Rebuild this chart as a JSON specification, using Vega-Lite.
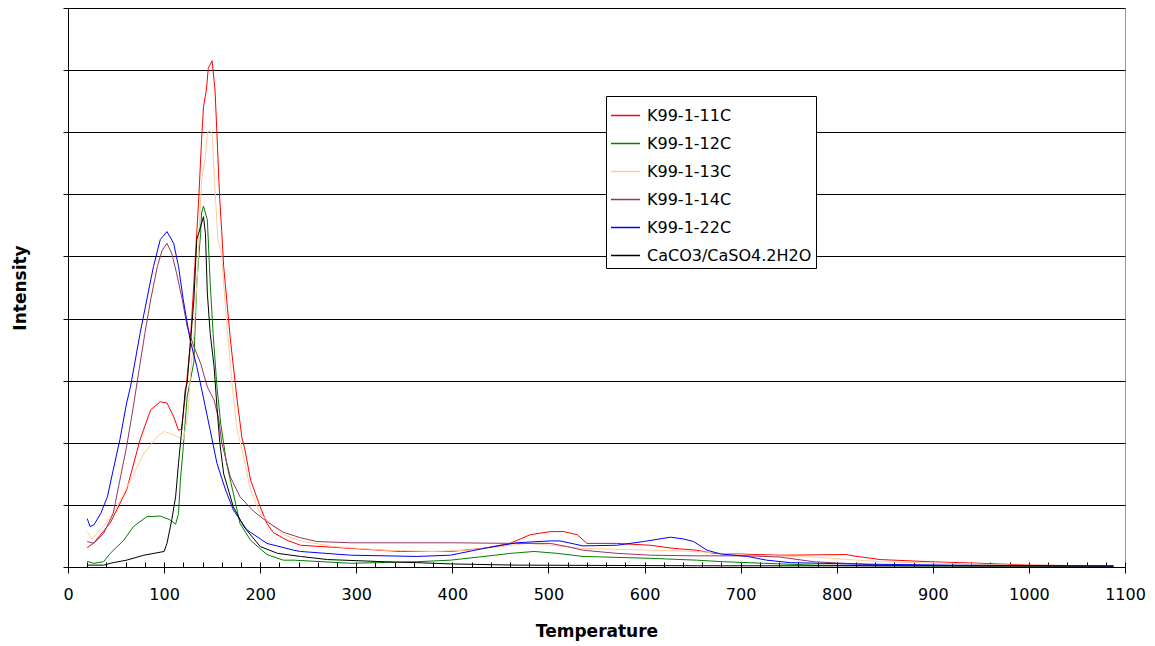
{
 "$schema": "https://vega.github.io/schema/vega-lite/v6.json",
 "width": 1057, "height": 559,
 "autosize": {"type": "none"},
 "padding": {"left": 68, "top": 8, "right": 30, "bottom": 79},
 "background": "white",
 "config": {"view": {"stroke": "#999999", "strokeWidth": 1}, "font": "DejaVu Sans"},
 "layer": [
  {
   "data": {"values": [
    {"Series":"K99-1-11C","Temperature":20,"Intensity":0.31},{"Series":"K99-1-11C","Temperature":27,"Intensity":0.39},{"Series":"K99-1-11C","Temperature":44,"Intensity":0.71},{"Series":"K99-1-11C","Temperature":61,"Intensity":1.24},{"Series":"K99-1-11C","Temperature":75,"Intensity":2.05},{"Series":"K99-1-11C","Temperature":86,"Intensity":2.53},{"Series":"K99-1-11C","Temperature":96,"Intensity":2.66},{"Series":"K99-1-11C","Temperature":103,"Intensity":2.64},{"Series":"K99-1-11C","Temperature":110,"Intensity":2.42},{"Series":"K99-1-11C","Temperature":115,"Intensity":2.2},{"Series":"K99-1-11C","Temperature":118,"Intensity":2.22},{"Series":"K99-1-11C","Temperature":122,"Intensity":2.74},{"Series":"K99-1-11C","Temperature":127,"Intensity":3.55},{"Series":"K99-1-11C","Temperature":132,"Intensity":4.84},{"Series":"K99-1-11C","Temperature":136,"Intensity":5.91},{"Series":"K99-1-11C","Temperature":139,"Intensity":6.88},{"Series":"K99-1-11C","Temperature":141,"Intensity":7.41},{"Series":"K99-1-11C","Temperature":144,"Intensity":7.68},{"Series":"K99-1-11C","Temperature":146,"Intensity":8.03},{"Series":"K99-1-11C","Temperature":150,"Intensity":8.15},{"Series":"K99-1-11C","Temperature":153,"Intensity":7.68},{"Series":"K99-1-11C","Temperature":155,"Intensity":6.98},{"Series":"K99-1-11C","Temperature":157,"Intensity":6.23},{"Series":"K99-1-11C","Temperature":158,"Intensity":5.91},{"Series":"K99-1-11C","Temperature":160,"Intensity":5.4},{"Series":"K99-1-11C","Temperature":162,"Intensity":4.84},{"Series":"K99-1-11C","Temperature":169,"Intensity":3.66},{"Series":"K99-1-11C","Temperature":176,"Intensity":2.69},{"Series":"K99-1-11C","Temperature":181,"Intensity":2.08},{"Series":"K99-1-11C","Temperature":184,"Intensity":1.9},{"Series":"K99-1-11C","Temperature":190,"Intensity":1.4},{"Series":"K99-1-11C","Temperature":200,"Intensity":0.97},{"Series":"K99-1-11C","Temperature":207,"Intensity":0.7},{"Series":"K99-1-11C","Temperature":214,"Intensity":0.55},{"Series":"K99-1-11C","Temperature":228,"Intensity":0.43},{"Series":"K99-1-11C","Temperature":242,"Intensity":0.35},{"Series":"K99-1-11C","Temperature":294,"Intensity":0.3},{"Series":"K99-1-11C","Temperature":346,"Intensity":0.25},{"Series":"K99-1-11C","Temperature":398,"Intensity":0.25},{"Series":"K99-1-11C","Temperature":432,"Intensity":0.3},{"Series":"K99-1-11C","Temperature":460,"Intensity":0.38},{"Series":"K99-1-11C","Temperature":481,"Intensity":0.52},{"Series":"K99-1-11C","Temperature":502,"Intensity":0.57},{"Series":"K99-1-11C","Temperature":516,"Intensity":0.57},{"Series":"K99-1-11C","Temperature":530,"Intensity":0.52},{"Series":"K99-1-11C","Temperature":540,"Intensity":0.38},{"Series":"K99-1-11C","Temperature":571,"Intensity":0.38},{"Series":"K99-1-11C","Temperature":606,"Intensity":0.35},{"Series":"K99-1-11C","Temperature":630,"Intensity":0.3},{"Series":"K99-1-11C","Temperature":654,"Intensity":0.27},{"Series":"K99-1-11C","Temperature":672,"Intensity":0.22},{"Series":"K99-1-11C","Temperature":741,"Intensity":0.19},{"Series":"K99-1-11C","Temperature":810,"Intensity":0.2},{"Series":"K99-1-11C","Temperature":817,"Intensity":0.18},{"Series":"K99-1-11C","Temperature":845,"Intensity":0.12},{"Series":"K99-1-11C","Temperature":897,"Intensity":0.085},{"Series":"K99-1-11C","Temperature":949,"Intensity":0.06},{"Series":"K99-1-11C","Temperature":1001,"Intensity":0.03},{"Series":"K99-1-11C","Temperature":1088,"Intensity":0.016},

    {"Series":"K99-1-12C","Temperature":20,"Intensity":0.09},{"Series":"K99-1-12C","Temperature":27,"Intensity":0.06},{"Series":"K99-1-12C","Temperature":37,"Intensity":0.085},{"Series":"K99-1-12C","Temperature":44,"Intensity":0.22},{"Series":"K99-1-12C","Temperature":58,"Intensity":0.43},{"Series":"K99-1-12C","Temperature":68,"Intensity":0.65},{"Series":"K99-1-12C","Temperature":82,"Intensity":0.81},{"Series":"K99-1-12C","Temperature":96,"Intensity":0.82},{"Series":"K99-1-12C","Temperature":106,"Intensity":0.76},{"Series":"K99-1-12C","Temperature":112,"Intensity":0.69},{"Series":"K99-1-12C","Temperature":115,"Intensity":0.86},{"Series":"K99-1-12C","Temperature":117,"Intensity":1.4},{"Series":"K99-1-12C","Temperature":120,"Intensity":1.94},{"Series":"K99-1-12C","Temperature":124,"Intensity":2.74},{"Series":"K99-1-12C","Temperature":131,"Intensity":3.3},{"Series":"K99-1-12C","Temperature":134,"Intensity":4.57},{"Series":"K99-1-12C","Temperature":138,"Intensity":5.37},{"Series":"K99-1-12C","Temperature":139,"Intensity":5.7},{"Series":"K99-1-12C","Temperature":141,"Intensity":5.81},{"Series":"K99-1-12C","Temperature":145,"Intensity":5.59},{"Series":"K99-1-12C","Temperature":148,"Intensity":4.57},{"Series":"K99-1-12C","Temperature":151,"Intensity":3.76},{"Series":"K99-1-12C","Temperature":155,"Intensity":2.9},{"Series":"K99-1-12C","Temperature":159,"Intensity":2.3},{"Series":"K99-1-12C","Temperature":165,"Intensity":1.67},{"Series":"K99-1-12C","Temperature":172,"Intensity":1.19},{"Series":"K99-1-12C","Temperature":179,"Intensity":0.7},{"Series":"K99-1-12C","Temperature":190,"Intensity":0.43},{"Series":"K99-1-12C","Temperature":207,"Intensity":0.2},{"Series":"K99-1-12C","Temperature":224,"Intensity":0.11},{"Series":"K99-1-12C","Temperature":235,"Intensity":0.11},{"Series":"K99-1-12C","Temperature":294,"Intensity":0.06},{"Series":"K99-1-12C","Temperature":363,"Intensity":0.085},{"Series":"K99-1-12C","Temperature":398,"Intensity":0.11},{"Series":"K99-1-12C","Temperature":433,"Intensity":0.17},{"Series":"K99-1-12C","Temperature":461,"Intensity":0.22},{"Series":"K99-1-12C","Temperature":485,"Intensity":0.25},{"Series":"K99-1-12C","Temperature":509,"Intensity":0.22},{"Series":"K99-1-12C","Temperature":536,"Intensity":0.17},{"Series":"K99-1-12C","Temperature":606,"Intensity":0.14},{"Series":"K99-1-12C","Temperature":654,"Intensity":0.11},{"Series":"K99-1-12C","Temperature":682,"Intensity":0.085},{"Series":"K99-1-12C","Temperature":724,"Intensity":0.06},{"Series":"K99-1-12C","Temperature":776,"Intensity":0.03},{"Series":"K99-1-12C","Temperature":850,"Intensity":0.02},{"Series":"K99-1-12C","Temperature":950,"Intensity":0.015},{"Series":"K99-1-12C","Temperature":1088,"Intensity":0.01},

    {"Series":"K99-1-13C","Temperature":20,"Intensity":0.57},{"Series":"K99-1-13C","Temperature":25,"Intensity":0.45},{"Series":"K99-1-13C","Temperature":37,"Intensity":0.65},{"Series":"K99-1-13C","Temperature":51,"Intensity":0.97},{"Series":"K99-1-13C","Temperature":65,"Intensity":1.4},{"Series":"K99-1-13C","Temperature":79,"Intensity":1.83},{"Series":"K99-1-13C","Temperature":93,"Intensity":2.1},{"Series":"K99-1-13C","Temperature":100,"Intensity":2.18},{"Series":"K99-1-13C","Temperature":110,"Intensity":2.13},{"Series":"K99-1-13C","Temperature":120,"Intensity":2.05},{"Series":"K99-1-13C","Temperature":125,"Intensity":2.47},{"Series":"K99-1-13C","Temperature":127,"Intensity":3.01},{"Series":"K99-1-13C","Temperature":131,"Intensity":3.76},{"Series":"K99-1-13C","Temperature":135,"Intensity":4.8},{"Series":"K99-1-13C","Temperature":137,"Intensity":5.6},{"Series":"K99-1-13C","Temperature":139,"Intensity":6.23},{"Series":"K99-1-13C","Temperature":143,"Intensity":6.61},{"Series":"K99-1-13C","Temperature":145,"Intensity":6.98},{"Series":"K99-1-13C","Temperature":147,"Intensity":7.03},{"Series":"K99-1-13C","Temperature":150,"Intensity":6.98},{"Series":"K99-1-13C","Temperature":152,"Intensity":6.34},{"Series":"K99-1-13C","Temperature":154,"Intensity":5.8},{"Series":"K99-1-13C","Temperature":156,"Intensity":5.27},{"Series":"K99-1-13C","Temperature":160,"Intensity":5.0},{"Series":"K99-1-13C","Temperature":162,"Intensity":4.57},{"Series":"K99-1-13C","Temperature":166,"Intensity":3.76},{"Series":"K99-1-13C","Temperature":171,"Intensity":2.9},{"Series":"K99-1-13C","Temperature":176,"Intensity":2.2},{"Series":"K99-1-13C","Temperature":181,"Intensity":1.9},{"Series":"K99-1-13C","Temperature":190,"Intensity":1.24},{"Series":"K99-1-13C","Temperature":200,"Intensity":0.86},{"Series":"K99-1-13C","Temperature":214,"Intensity":0.65},{"Series":"K99-1-13C","Temperature":224,"Intensity":0.52},{"Series":"K99-1-13C","Temperature":242,"Intensity":0.42},{"Series":"K99-1-13C","Temperature":276,"Intensity":0.33},{"Series":"K99-1-13C","Temperature":329,"Intensity":0.27},{"Series":"K99-1-13C","Temperature":380,"Intensity":0.25},{"Series":"K99-1-13C","Temperature":415,"Intensity":0.27},{"Series":"K99-1-13C","Temperature":450,"Intensity":0.33},{"Series":"K99-1-13C","Temperature":478,"Intensity":0.38},{"Series":"K99-1-13C","Temperature":502,"Intensity":0.35},{"Series":"K99-1-13C","Temperature":536,"Intensity":0.3},{"Series":"K99-1-13C","Temperature":606,"Intensity":0.27},{"Series":"K99-1-13C","Temperature":654,"Intensity":0.25},{"Series":"K99-1-13C","Temperature":707,"Intensity":0.19},{"Series":"K99-1-13C","Temperature":776,"Intensity":0.16},{"Series":"K99-1-13C","Temperature":845,"Intensity":0.085},{"Series":"K99-1-13C","Temperature":915,"Intensity":0.06},{"Series":"K99-1-13C","Temperature":984,"Intensity":0.03},{"Series":"K99-1-13C","Temperature":1088,"Intensity":0.02},

    {"Series":"K99-1-14C","Temperature":20,"Intensity":0.41},{"Series":"K99-1-14C","Temperature":27,"Intensity":0.38},{"Series":"K99-1-14C","Temperature":37,"Intensity":0.54},{"Series":"K99-1-14C","Temperature":47,"Intensity":0.86},{"Series":"K99-1-14C","Temperature":54,"Intensity":1.4},{"Series":"K99-1-14C","Temperature":61,"Intensity":1.94},{"Series":"K99-1-14C","Temperature":68,"Intensity":2.58},{"Series":"K99-1-14C","Temperature":72,"Intensity":2.98},{"Series":"K99-1-14C","Temperature":80,"Intensity":3.76},{"Series":"K99-1-14C","Temperature":86,"Intensity":4.3},{"Series":"K99-1-14C","Temperature":93,"Intensity":4.84},{"Series":"K99-1-14C","Temperature":98,"Intensity":5.1},{"Series":"K99-1-14C","Temperature":103,"Intensity":5.21},{"Series":"K99-1-14C","Temperature":108,"Intensity":5.05},{"Series":"K99-1-14C","Temperature":113,"Intensity":4.73},{"Series":"K99-1-14C","Temperature":119,"Intensity":4.3},{"Series":"K99-1-14C","Temperature":124,"Intensity":3.87},{"Series":"K99-1-14C","Temperature":131,"Intensity":3.55},{"Series":"K99-1-14C","Temperature":138,"Intensity":3.28},{"Series":"K99-1-14C","Temperature":145,"Intensity":2.9},{"Series":"K99-1-14C","Temperature":152,"Intensity":2.69},{"Series":"K99-1-14C","Temperature":157,"Intensity":2.37},{"Series":"K99-1-14C","Temperature":160,"Intensity":2.0},{"Series":"K99-1-14C","Temperature":169,"Intensity":1.45},{"Series":"K99-1-14C","Temperature":179,"Intensity":1.13},{"Series":"K99-1-14C","Temperature":193,"Intensity":0.9},{"Series":"K99-1-14C","Temperature":207,"Intensity":0.73},{"Series":"K99-1-14C","Temperature":224,"Intensity":0.56},{"Series":"K99-1-14C","Temperature":242,"Intensity":0.47},{"Series":"K99-1-14C","Temperature":259,"Intensity":0.41},{"Series":"K99-1-14C","Temperature":294,"Intensity":0.39},{"Series":"K99-1-14C","Temperature":398,"Intensity":0.39},{"Series":"K99-1-14C","Temperature":467,"Intensity":0.38},{"Series":"K99-1-14C","Temperature":502,"Intensity":0.38},{"Series":"K99-1-14C","Temperature":519,"Intensity":0.33},{"Series":"K99-1-14C","Temperature":536,"Intensity":0.27},{"Series":"K99-1-14C","Temperature":571,"Intensity":0.22},{"Series":"K99-1-14C","Temperature":606,"Intensity":0.19},{"Series":"K99-1-14C","Temperature":654,"Intensity":0.18},{"Series":"K99-1-14C","Temperature":707,"Intensity":0.18},{"Series":"K99-1-14C","Temperature":741,"Intensity":0.16},{"Series":"K99-1-14C","Temperature":776,"Intensity":0.085},{"Series":"K99-1-14C","Temperature":845,"Intensity":0.03},{"Series":"K99-1-14C","Temperature":950,"Intensity":0.02},{"Series":"K99-1-14C","Temperature":1088,"Intensity":0.015},

    {"Series":"K99-1-22C","Temperature":20,"Intensity":0.78},{"Series":"K99-1-22C","Temperature":23,"Intensity":0.65},{"Series":"K99-1-22C","Temperature":27,"Intensity":0.68},{"Series":"K99-1-22C","Temperature":34,"Intensity":0.86},{"Series":"K99-1-22C","Temperature":41,"Intensity":1.13},{"Series":"K99-1-22C","Temperature":47,"Intensity":1.56},{"Series":"K99-1-22C","Temperature":54,"Intensity":2.05},{"Series":"K99-1-22C","Temperature":61,"Intensity":2.64},{"Series":"K99-1-22C","Temperature":65,"Intensity":2.9},{"Series":"K99-1-22C","Temperature":75,"Intensity":3.76},{"Series":"K99-1-22C","Temperature":84,"Intensity":4.46},{"Series":"K99-1-22C","Temperature":89,"Intensity":4.84},{"Series":"K99-1-22C","Temperature":96,"Intensity":5.27},{"Series":"K99-1-22C","Temperature":103,"Intensity":5.4},{"Series":"K99-1-22C","Temperature":110,"Intensity":5.21},{"Series":"K99-1-22C","Temperature":115,"Intensity":4.84},{"Series":"K99-1-22C","Temperature":120,"Intensity":4.3},{"Series":"K99-1-22C","Temperature":127,"Intensity":3.66},{"Series":"K99-1-22C","Temperature":134,"Intensity":3.23},{"Series":"K99-1-22C","Temperature":141,"Intensity":2.72},{"Series":"K99-1-22C","Temperature":148,"Intensity":2.2},{"Series":"K99-1-22C","Temperature":155,"Intensity":1.67},{"Series":"K99-1-22C","Temperature":164,"Intensity":1.24},{"Series":"K99-1-22C","Temperature":172,"Intensity":0.92},{"Series":"K99-1-22C","Temperature":186,"Intensity":0.6},{"Series":"K99-1-22C","Temperature":207,"Intensity":0.38},{"Series":"K99-1-22C","Temperature":235,"Intensity":0.27},{"Series":"K99-1-22C","Temperature":242,"Intensity":0.25},{"Series":"K99-1-22C","Temperature":294,"Intensity":0.19},{"Series":"K99-1-22C","Temperature":363,"Intensity":0.17},{"Series":"K99-1-22C","Temperature":398,"Intensity":0.19},{"Series":"K99-1-22C","Temperature":433,"Intensity":0.3},{"Series":"K99-1-22C","Temperature":467,"Intensity":0.39},{"Series":"K99-1-22C","Temperature":502,"Intensity":0.42},{"Series":"K99-1-22C","Temperature":512,"Intensity":0.42},{"Series":"K99-1-22C","Temperature":536,"Intensity":0.34},{"Series":"K99-1-22C","Temperature":571,"Intensity":0.35},{"Series":"K99-1-22C","Temperature":599,"Intensity":0.41},{"Series":"K99-1-22C","Temperature":627,"Intensity":0.48},{"Series":"K99-1-22C","Temperature":641,"Intensity":0.45},{"Series":"K99-1-22C","Temperature":651,"Intensity":0.41},{"Series":"K99-1-22C","Temperature":665,"Intensity":0.27},{"Series":"K99-1-22C","Temperature":679,"Intensity":0.21},{"Series":"K99-1-22C","Temperature":707,"Intensity":0.17},{"Series":"K99-1-22C","Temperature":727,"Intensity":0.11},{"Series":"K99-1-22C","Temperature":752,"Intensity":0.07},{"Series":"K99-1-22C","Temperature":811,"Intensity":0.05},{"Series":"K99-1-22C","Temperature":915,"Intensity":0.03},{"Series":"K99-1-22C","Temperature":1088,"Intensity":0.016},

    {"Series":"CaCO3/CaSO4.2H2O","Temperature":20,"Intensity":0.03},{"Series":"CaCO3/CaSO4.2H2O","Temperature":37,"Intensity":0.03},{"Series":"CaCO3/CaSO4.2H2O","Temperature":47,"Intensity":0.07},{"Series":"CaCO3/CaSO4.2H2O","Temperature":61,"Intensity":0.11},{"Series":"CaCO3/CaSO4.2H2O","Temperature":79,"Intensity":0.19},{"Series":"CaCO3/CaSO4.2H2O","Temperature":100,"Intensity":0.25},{"Series":"CaCO3/CaSO4.2H2O","Temperature":103,"Intensity":0.38},{"Series":"CaCO3/CaSO4.2H2O","Temperature":108,"Intensity":0.76},{"Series":"CaCO3/CaSO4.2H2O","Temperature":112,"Intensity":1.13},{"Series":"CaCO3/CaSO4.2H2O","Temperature":115,"Intensity":1.67},{"Series":"CaCO3/CaSO4.2H2O","Temperature":119,"Intensity":2.31},{"Series":"CaCO3/CaSO4.2H2O","Temperature":122,"Intensity":2.85},{"Series":"CaCO3/CaSO4.2H2O","Temperature":124,"Intensity":2.96},{"Series":"CaCO3/CaSO4.2H2O","Temperature":131,"Intensity":4.3},{"Series":"CaCO3/CaSO4.2H2O","Temperature":134,"Intensity":5.27},{"Series":"CaCO3/CaSO4.2H2O","Temperature":138,"Intensity":5.48},{"Series":"CaCO3/CaSO4.2H2O","Temperature":141,"Intensity":5.64},{"Series":"CaCO3/CaSO4.2H2O","Temperature":143,"Intensity":5.37},{"Series":"CaCO3/CaSO4.2H2O","Temperature":145,"Intensity":4.41},{"Series":"CaCO3/CaSO4.2H2O","Temperature":148,"Intensity":3.76},{"Series":"CaCO3/CaSO4.2H2O","Temperature":152,"Intensity":3.23},{"Series":"CaCO3/CaSO4.2H2O","Temperature":155,"Intensity":2.58},{"Series":"CaCO3/CaSO4.2H2O","Temperature":158,"Intensity":2.0},{"Series":"CaCO3/CaSO4.2H2O","Temperature":162,"Intensity":1.5},{"Series":"CaCO3/CaSO4.2H2O","Temperature":166,"Intensity":1.29},{"Series":"CaCO3/CaSO4.2H2O","Temperature":172,"Intensity":0.97},{"Series":"CaCO3/CaSO4.2H2O","Temperature":183,"Intensity":0.65},{"Series":"CaCO3/CaSO4.2H2O","Temperature":200,"Intensity":0.33},{"Series":"CaCO3/CaSO4.2H2O","Temperature":218,"Intensity":0.22},{"Series":"CaCO3/CaSO4.2H2O","Temperature":242,"Intensity":0.17},{"Series":"CaCO3/CaSO4.2H2O","Temperature":270,"Intensity":0.12},{"Series":"CaCO3/CaSO4.2H2O","Temperature":329,"Intensity":0.085},{"Series":"CaCO3/CaSO4.2H2O","Temperature":363,"Intensity":0.07},{"Series":"CaCO3/CaSO4.2H2O","Temperature":398,"Intensity":0.05},{"Series":"CaCO3/CaSO4.2H2O","Temperature":467,"Intensity":0.03},{"Series":"CaCO3/CaSO4.2H2O","Temperature":655,"Intensity":0.02},{"Series":"CaCO3/CaSO4.2H2O","Temperature":1088,"Intensity":0.015}
   ]},
   "mark": {"type": "line", "strokeWidth": 1, "interpolate": "linear"},
   "encoding": {
    "x": {"field": "Temperature", "type": "quantitative",
     "scale": {"domain": [0, 1100], "nice": false, "zero": false},
     "axis": {"orient": "bottom", "values": [0,100,200,300,400,500,600,700,800,900,1000,1100], "format": "d", "labelFlush": false, "grid": false,
      "tickSize": 6, "tickColor": "black", "domainColor": "black",
      "labelFont": "DejaVu Sans", "labelFontSize": 16, "labelColor": "black", "labelPadding": 13,
      "title": "Temperature", "titleFont": "DejaVu Sans", "titleFontSize": 17, "titleFontWeight": "bold", "titleColor": "black", "titlePadding": 21}},
    "y": {"field": "Intensity", "type": "quantitative",
     "scale": {"domain": [0, 9], "nice": false, "zero": true},
     "axis": {"values": [0,1,2,3,4,5,6,7,8,9], "labels": false, "tickSize": 5, "tickColor": "black", "domainColor": "black",
      "grid": true, "gridColor": "black", "gridWidth": 1,
      "title": "Intensity", "titleFont": "DejaVu Sans", "titleFontSize": 17, "titleFontWeight": "bold", "titleColor": "black", "titlePadding": 33}},
    "color": {"field": "Series", "type": "nominal",
     "scale": {"domain": ["K99-1-11C","K99-1-12C","K99-1-13C","K99-1-14C","K99-1-22C","CaCO3/CaSO4.2H2O"],
      "range": ["#ff0000","#008000","#ffcc99","#993366","#0000ff","#000000"]},
     "legend": {"title": null, "orient": "none", "legendX": 538, "legendY": 88,
      "symbolType": "stroke", "symbolSize": 841, "symbolStrokeWidth": 1.5,
      "labelFont": "DejaVu Sans", "labelFontSize": 16, "labelColor": "black", "labelOffset": 6, "labelLimit": 400,
      "strokeColor": "black", "fillColor": "white", "padding": 4, "rowPadding": 4}}
   }
  },
  {
   "data": {"values": [{"Temperature": 0}]},
   "mark": {"type": "rule", "strokeOpacity": 0},
   "encoding": {
    "x": {"field": "Temperature", "type": "quantitative",
     "scale": {"domain": [0, 1100], "nice": false, "zero": false},
     "axis": {"orient": "bottom", "values": [0,20,40,60,80,100,120,140,160,180,200,220,240,260,280,300,320,340,360,380,400,420,440,460,480,500,520,540,560,580,600,620,640,660,680,700,720,740,760,780,800,820,840,860,880,900,920,940,960,980,1000,1020,1040,1060,1080,1100],
      "tickSize": -5, "tickColor": "black", "labels": false, "domain": false, "grid": false, "title": null}}
   }
  }
 ],
 "resolve": {"axis": {"x": "independent"}}
}
